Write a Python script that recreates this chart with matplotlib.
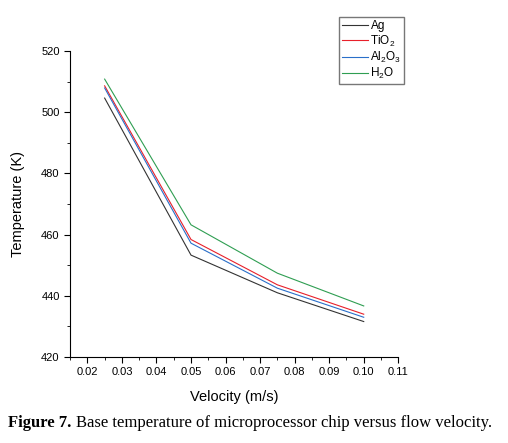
import matplotlib
matplotlib.use("Agg")
import matplotlib.pyplot as plt
from matplotlib.ticker import MultipleLocator

plt.rcParams['font.family'] = ['Liberation Sans', 'DejaVu Sans']
plt.rcParams['mathtext.fontset'] = 'custom'
plt.rcParams['mathtext.rm'] = 'Liberation Sans'
plt.rcParams['mathtext.it'] = 'Liberation Sans'
plt.rcParams['mathtext.bf'] = 'Liberation Sans:bold'

velocity = [0.025, 0.05, 0.075, 0.10]
temp_ag = [504.6, 453.3, 441.0, 431.6]
temp_tio2 = [508.6, 458.4, 443.6, 434.0]
temp_al2o3 = [507.9, 457.2, 442.5, 433.0]
temp_h2o = [510.8, 463.2, 447.4, 436.7]

fig = plt.figure(figsize=(5.08, 4.43), dpi=100)
ax = fig.add_axes([0.138, 0.194, 0.646, 0.691])

ax.plot(velocity, temp_ag, color='#333333', lw=0.8, label='Ag')
ax.plot(velocity, temp_tio2, color='#e8202a', lw=0.8, label='TiO$_2$')
ax.plot(velocity, temp_al2o3, color='#2a6fc9', lw=0.8, label='Al$_2$O$_3$')
ax.plot(velocity, temp_h2o, color='#2f9e52', lw=0.8, label='H$_2$O')

ax.set_xlim(0.015, 0.11)
ax.set_ylim(420, 520)
ax.xaxis.set_minor_locator(MultipleLocator(0.005))
ax.yaxis.set_major_locator(MultipleLocator(20))
ax.yaxis.set_minor_locator(MultipleLocator(10))
ax.set_xticks([0.02 + 0.01 * i for i in range(10)])
ax.xaxis.set_major_formatter(plt.FuncFormatter(lambda v, p: f"{v:.2f}"))

for s in ['top', 'right']:
    ax.spines[s].set_visible(False)
ax.tick_params(which='both', direction='out', labelsize=8)
ax.tick_params(which='major', length=4)
ax.tick_params(which='minor', length=2)

ax.set_xlabel('Velocity (m/s)', fontsize=10.5, labelpad=9)
ax.set_ylabel('Temperature (K)', fontsize=10.5, labelpad=12)

ax.legend(loc='upper left', bbox_to_anchor=(0.82, 1.11), fontsize=8.5, frameon=True,
          fancybox=False, edgecolor='#555555', handlelength=2.2, borderpad=0.25,
          labelspacing=0.1, handletextpad=0.2, borderaxespad=0)

fig.text(0.016, 0.035, 'Figure 7.', ha='left', fontsize=12, weight='bold',
         family=['Liberation Serif', 'DejaVu Serif'])
fig.text(0.149, 0.035, 'Base temperature of microprocessor chip versus flow velocity.',
         ha='left', fontsize=12, family=['Liberation Serif', 'DejaVu Serif'])

fig.savefig('out.png', dpi=100)
